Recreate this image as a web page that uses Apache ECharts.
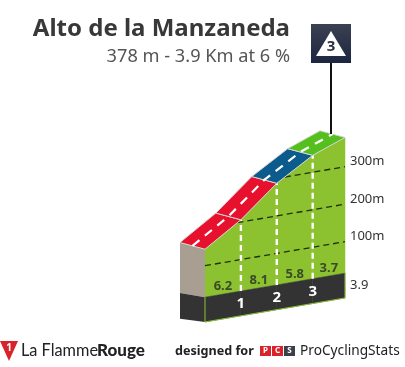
<!DOCTYPE html>
<html><head><meta charset="utf-8">
<style>html,body{margin:0;padding:0;background:#fff}#c{width:405px;height:367px}</style>
<script src="https://cdn.jsdelivr.net/npm/echarts@6/dist/echarts.min.js"></script></head>
<body><div id="c"></div>
<script>
const titleText = 'Alto de la Manzaneda';
const subtitleText = '378 m - 3.9 Km at 6 %';
const kmStops = [0, 1, 2, 3, 3.9];
const elevations = [144, 206, 287, 345, 378];
const gradients = [6.2, 8.1, 5.8, 3.7];
const roadColors = ['#e8112d', '#e8112d', '#0b5c8c', '#55bf1e'];
const kmMarks = [1, 2, 3];
const gridLevels = [100, 200, 300];
const gridLabels = ['100m', '200m', '300m'];
const totalLabel = '3.9';
const categoryLabel = '3';

const SKEW = 24 / 3.9, ROAD = [-25, -6.7];
const BAND_TOP = 16, BAND_BOTTOM = -50, TEXT_UP = 37, TEXT_DOWN = -19;
const FONT = '"Noto Sans", Tahoma, sans-serif';

function P(api, km, elev) { const c = api.coord([km, elev]); return [c[0], c[1] - SKEW * km]; }
function off(p, d) { return [p[0] + d[0], p[1] + d[1]]; }
function poly(points, fill, stroke, lw) {
  return { type: 'polygon', shape: { points }, style: { fill, stroke: stroke || null, lineWidth: lw || 0 } };
}
function line(points, stroke, lw, dash) {
  return { type: 'polyline', shape: { points }, style: { fill: null, stroke, lineWidth: lw, lineDash: dash } };
}
function elevAt(km) {
  for (let i = 0; i < kmStops.length - 1; i++) if (km <= kmStops[i + 1])
    return elevations[i] + (elevations[i + 1] - elevations[i]) * (km - kmStops[i]) / (kmStops[i + 1] - kmStops[i]);
  return elevations[elevations.length - 1];
}
function kmAt(elev) {
  for (let i = 0; i < kmStops.length - 1; i++) if (elev <= elevations[i + 1])
    return kmStops[i] + (kmStops[i + 1] - kmStops[i]) * Math.max(0, elev - elevations[i]) / (elevations[i + 1] - elevations[i]);
  return kmStops[kmStops.length - 1];
}
const end = kmStops[kmStops.length - 1];
const segs = gradients.map((g, i) => [kmStops[i], kmStops[i + 1], elevations[i], elevations[i + 1], g, i]);
const one = [[0, 0]];
const base = { type: 'custom', coordinateSystem: 'cartesian2d', silent: true, animation: false, clip: false };

const chart = echarts.init(document.getElementById('c'), null, { renderer: 'canvas' });
chart.setOption({
  animation: false,
  backgroundColor: '#fff',
  title: [
    { text: titleText, right: 115, top: 17, textStyle: { fontFamily: FONT, fontWeight: 'bold', fontSize: 24, color: '#383838' }, padding: 0 },
    { text: subtitleText, right: 115, top: 48, textStyle: { fontFamily: FONT, fontWeight: 'normal', fontSize: 18.2, color: '#555' }, padding: 0 }
  ],
  grid: { left: 205, width: 140, top: 115.7, height: 225 },
  xAxis: { type: 'value', min: 0, max: 3.9, show: false },
  yAxis: { type: 'value', min: -100, max: 500, interval: 100, show: false },
  series: [
    Object.assign({}, base, { data: segs, renderItem(p, api) {
      const a = api.value(0), b = api.value(1), e0 = api.value(2), e1 = api.value(3);
      return { type: 'group', children: [
        poly([P(api, a, BAND_TOP), P(api, b, BAND_TOP), P(api, b, e1), P(api, a, e0)], '#8cc230', '#8cc230', 0.5),
        poly([P(api, a, BAND_BOTTOM), P(api, b, BAND_BOTTOM), P(api, b, BAND_TOP), P(api, a, BAND_TOP)], '#333333', '#333333', 0.5)
      ] };
    } }),
    Object.assign({}, base, { data: one, renderItem(p, api) {
      const top = P(api, 0, elevations[0]), mid = P(api, 0, BAND_TOP), bot = P(api, 0, BAND_BOTTOM);
      return { type: 'group', children: [
        poly([top, mid, off(mid, [-25, -4.3]), off(top, ROAD)], '#a89e92'),
        poly([mid, bot, off(bot, [-25, -3.3]), off(mid, [-25, -4.3])], '#333333'),
        line([mid, bot, P(api, end, BAND_BOTTOM)], '#8cc230', 1),
        line([P(api, end, BAND_BOTTOM), P(api, end, BAND_TOP)], '#8cc230', 1)
      ] };
    } }),
    Object.assign({}, base, { data: gridLevels.map(g => [g]), renderItem(p, api) {
      const g = api.value(0);
      return line([P(api, kmAt(g), g), P(api, end, g)], '#22300c', 1.3, [6, 4]);
    } }),
    Object.assign({}, base, { data: kmMarks.map(k => [k]), renderItem(p, api) {
      const k = api.value(0);
      return line([P(api, k, BAND_TOP), P(api, k, elevAt(k))], '#ffffff', 2.4, [6, 4]);
    } }),
    Object.assign({}, base, { data: segs, renderItem(p, api) {
      const a = P(api, api.value(0), api.value(2)), b = P(api, api.value(1), api.value(3));
      return poly([a, b, off(b, ROAD), off(a, ROAD)], roadColors[api.value(5)], '#d4d4d4', 1);
    } }),
    Object.assign({}, base, { data: one, renderItem(p, api) {
      const mid = [ROAD[0] / 2, ROAD[1] / 2];
      return line(kmStops.map((k, i) => off(P(api, k, elevations[i]), mid)), '#ffffff', 2.2, [9, 7]);
    } }),
    Object.assign({}, base, { data: segs, renderItem(p, api) {
      const m = P(api, (api.value(0) + api.value(1)) / 2, TEXT_UP);
      return { type: 'text', x: m[0], y: m[1], style: { text: api.value(4).toFixed(1), align: 'center', verticalAlign: 'middle',
        font: 'bold 13px ' + FONT, fill: '#3c4a28' } };
    } }),
    Object.assign({}, base, { data: kmMarks.map(k => [k]), renderItem(p, api) {
      const m = P(api, api.value(0), TEXT_DOWN);
      return { type: 'text', x: m[0], y: m[1], style: { text: String(api.value(0)), align: 'center', verticalAlign: 'middle',
        font: 'bold 15px ' + FONT, fill: '#ffffff' } };
    } }),
    Object.assign({}, base, { data: gridLevels.map((g, i) => [g, i]), renderItem(p, api) {
      const m = P(api, end, api.value(0));
      return { type: 'text', x: m[0] + 5, y: m[1] - 5, style: { text: gridLabels[api.value(1)], align: 'left', verticalAlign: 'middle',
        font: '13px ' + FONT, fill: '#333' } };
    } }),
    Object.assign({}, base, { data: one, renderItem(p, api) {
      const m = P(api, end, BAND_TOP);
      return { type: 'text', x: m[0] + 5, y: m[1] + 12, style: { text: totalLabel, align: 'left', verticalAlign: 'middle',
        font: '13px ' + FONT, fill: '#333' } };
    } })
  ],
  graphic: [
    { type: 'line', shape: { x1: 331, y1: 63, x2: 331, y2: 134 }, style: { stroke: '#111', lineWidth: 2 }, z: 20 },
    { type: 'rect', shape: { x: 311, y: 24, width: 40, height: 39 }, style: { fill: new echarts.graphic.LinearGradient(0, 0, 0, 1, [{ offset: 0, color: '#3a4152' }, { offset: 1, color: '#1d2640' }]) }, z: 20 },
    { type: 'polygon', shape: { points: [[331, 31], [346, 56], [316, 56]] }, style: { fill: '#fff' }, z: 21 },
    { type: 'text', x: 331, y: 47, style: { text: categoryLabel, align: 'center', verticalAlign: 'middle', font: 'bold 15px ' + FONT, fill: '#2a3040' }, z: 22 },
    { type: 'polygon', shape: { points: [[0, 341], [18, 341], [9, 361]] }, style: { fill: '#d8232a' }, z: 20 },
    { type: 'text', x: 9, y: 348, style: { text: '1', align: 'center', verticalAlign: 'middle', font: 'bold 10px ' + FONT, fill: '#fff' }, z: 21 },
    { type: 'text', x: 21, y: 351, style: { text: 'La Flamme', align: 'left', verticalAlign: 'middle', font: '16.3px Lato, sans-serif', fill: '#222' }, z: 20 },
    { type: 'text', x: 97, y: 351, style: { text: 'Rouge', align: 'left', verticalAlign: 'middle', font: '900 17px Lato, sans-serif', fill: '#222' }, z: 20 },
    { type: 'text', x: 175, y: 351, style: { text: 'designed for', align: 'left', verticalAlign: 'middle', font: 'bold 12.6px ' + FONT, fill: '#222' }, z: 20 },
    { type: 'rect', shape: { x: 260, y: 346, width: 11, height: 10 }, style: { fill: '#d8232a' }, z: 20 },
    { type: 'rect', shape: { x: 272, y: 346, width: 11, height: 10 }, style: { fill: '#d8232a' }, z: 20 },
    { type: 'rect', shape: { x: 284, y: 346, width: 11, height: 10 }, style: { fill: '#3a3f4a' }, z: 20 },
    { type: 'text', x: 265.5, y: 351, style: { text: 'P', align: 'center', verticalAlign: 'middle', font: 'bold 8px ' + FONT, fill: '#fff' }, z: 21 },
    { type: 'text', x: 277.5, y: 351, style: { text: 'C', align: 'center', verticalAlign: 'middle', font: 'bold 8px ' + FONT, fill: '#fff' }, z: 21 },
    { type: 'text', x: 289.5, y: 351, style: { text: 'S', align: 'center', verticalAlign: 'middle', font: 'bold 8px ' + FONT, fill: '#fff' }, z: 21 },
    { type: 'text', x: 300, y: 351, style: { text: 'ProCyclingStats', align: 'left', verticalAlign: 'middle', font: '13.7px ' + FONT, fill: '#222' }, z: 20 }
  ]
});
</script></body></html>
